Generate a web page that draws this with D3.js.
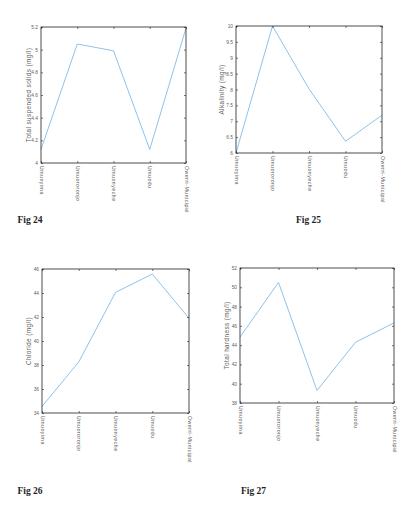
<!DOCTYPE html>
<html>
<head>
<meta charset="utf-8">
<script src="https://cdn.jsdelivr.net/npm/d3@7"></script>
<style>
  body { margin: 0; background: #fff; }
  svg { display: block; }
  .lbl { font-family: "Liberation Sans", Arial, sans-serif; fill: #606060; }
  .cap { font-family: "Liberation Serif", "DejaVu Serif", serif; font-weight: bold; fill: #1f1f1f; }
</style>
</head>
<body>
<svg id="chart" width="406" height="508"></svg>
<script>
// sampling sites (same on every panel)
var sites = ["Umuoyima", "Umuororonjo", "Umuonyeche", "Umuodu", "Owerri-Municipal"];

// values
var tss = [4.12, 5.05, 4.99, 4.12, 5.19];
var alkalinity = [6.0, 10.0, 8.02, 6.37, 7.19];
var chloride = [34.55, 38.25, 44.05, 45.58, 41.9];
var hardness = [44.84, 50.5, 39.3, 44.3, 46.3];

var tssTicks = [4, 4.2, 4.4, 4.6, 4.8, 5, 5.2];
var alkTicks = [6, 6.5, 7, 7.5, 8, 8.5, 9, 9.5, 10];
var clTicks = [34, 36, 38, 40, 42, 44, 46];
var hardTicks = [38, 40, 42, 44, 46, 48, 50, 52];

var svg = d3.select("#chart");

// one panel: box frame, inward ticks, rotated site names, thin blue line
function draw_panel(box, values, ticks, ylabel, caption) {
    var x = d3.scalePoint().domain(sites).range([box.x0, box.x1]);
    var y = d3.scaleLinear().domain([ticks[0], ticks[ticks.length - 1]]).range([box.y1, box.y0]);
    var g = svg.append("g");

    var lineFunction = d3.line()
        .x(function (d, i) { return x(sites[i]); })
        .y(function (d) { return y(d); });

    g.append("path")
        .attr("d", lineFunction(values))
        .attr("fill", "none")
        .attr("stroke", "#72b2e2")
        .attr("stroke-width", 0.8);

    // left axis, ticks pointing inwards
    var left = g.append("g")
        .attr("transform", "translate(" + box.x0 + ",0)")
        .call(d3.axisLeft(y).tickValues(ticks).tickSize(-2).tickPadding(3)
            .tickFormat(function (d) { return d3.format("~g")(d); }));
    left.attr("font-family", null);
    left.select(".domain").remove();
    left.selectAll("line").attr("stroke", "#222").attr("stroke-width", 0.6);
    left.selectAll("text").attr("class", "lbl").attr("font-size", 4.8);

    // right side ticks, no labels
    var right = g.append("g")
        .attr("transform", "translate(" + box.x1 + ",0)")
        .call(d3.axisRight(y).tickValues(ticks).tickSize(-2).tickFormat(""));
    right.select(".domain").remove();
    right.selectAll("line").attr("stroke", "#222").attr("stroke-width", 0.6);

    // bottom axis with site names reading downwards
    var bottom = g.append("g")
        .attr("transform", "translate(0," + box.y1 + ")")
        .call(d3.axisBottom(x).tickSize(-2).tickPadding(0));
    bottom.attr("font-family", null);
    bottom.select(".domain").remove();
    bottom.selectAll("line").attr("stroke", "#222").attr("stroke-width", 0.6);
    bottom.selectAll("text")
        .attr("class", "lbl")
        .attr("font-size", 5.2)
        .attr("letter-spacing", 0.5)
        .attr("text-anchor", "start")
        .attr("dy", null)
        .attr("y", 0)
        .attr("transform", "translate(-1.8,3) rotate(90)");

    var top = g.append("g")
        .attr("transform", "translate(0," + box.y0 + ")")
        .call(d3.axisTop(x).tickSize(-2).tickFormat(""));
    top.select(".domain").remove();
    top.selectAll("line").attr("stroke", "#222").attr("stroke-width", 0.6);

    g.append("rect")
        .attr("x", box.x0).attr("y", box.y0)
        .attr("width", box.x1 - box.x0).attr("height", box.y1 - box.y0)
        .attr("fill", "none").attr("stroke", "#222").attr("stroke-width", 0.8);

    g.append("text")
        .attr("class", "lbl")
        .attr("transform", "translate(" + box.lx + "," + ((box.y0 + box.y1) / 2) + ") rotate(-90)")
        .attr("text-anchor", "middle")
        .attr("font-size", 6.4)
        .attr("letter-spacing", 0.4)
        .text(ylabel);

    svg.append("text")
        .attr("class", "cap")
        .attr("x", caption.x).attr("y", caption.y)
        .attr("font-size", 9.5)
        .text(caption.text);
}

draw_panel({ x0: 41, x1: 186, y0: 27, y1: 163, lx: 31 }, tss, tssTicks,
    "Total suspended solids (mg/l)", { x: 17.5, y: 223, text: "Fig 24" });
draw_panel({ x0: 236, x1: 382, y0: 26, y1: 153, lx: 224 }, alkalinity, alkTicks,
    "Alkalinity (mg/l)", { x: 296, y: 223, text: "Fig 25" });
draw_panel({ x0: 42, x1: 189, y0: 269, y1: 413, lx: 31 }, chloride, clTicks,
    "Chloride (mg/l)", { x: 17.5, y: 494, text: "Fig 26" });
draw_panel({ x0: 240, x1: 394, y0: 268, y1: 403, lx: 229 }, hardness, hardTicks,
    "Total hardness (mg/l)", { x: 241, y: 494, text: "Fig 27" });
</script>
</body>
</html>
